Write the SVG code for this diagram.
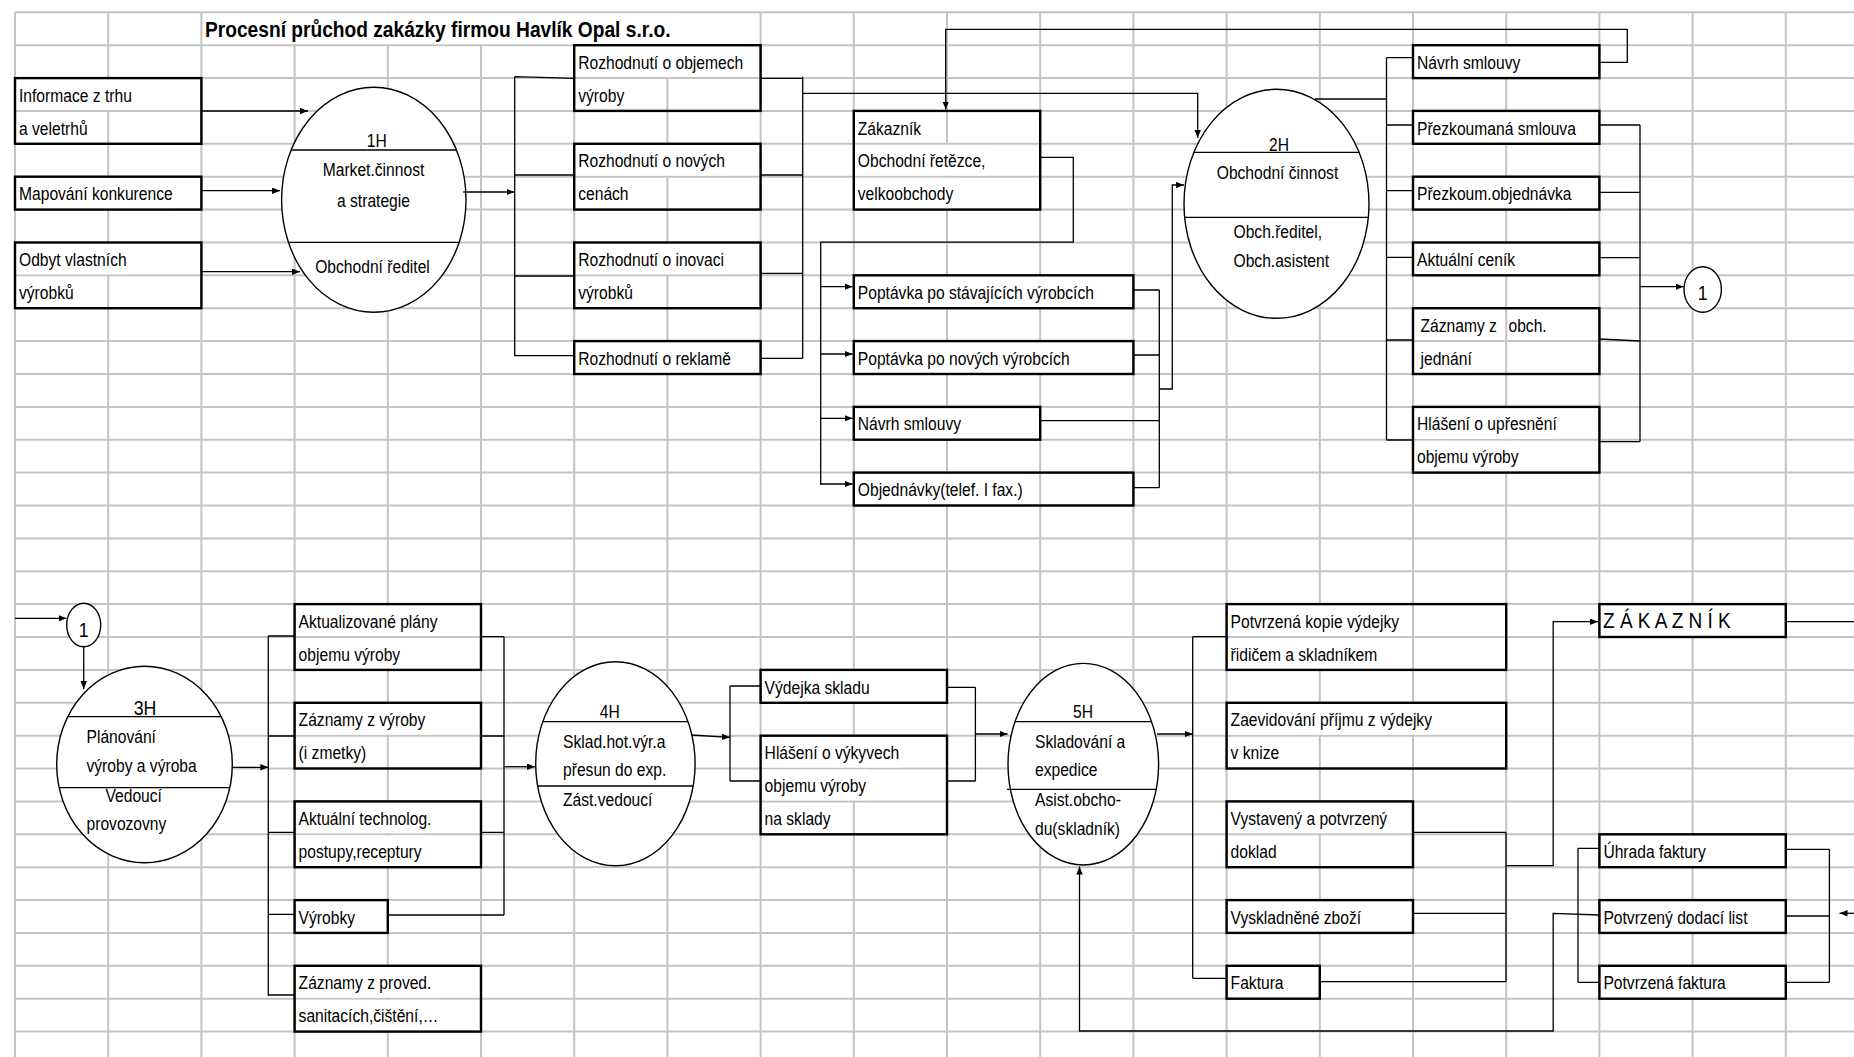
<svg xmlns="http://www.w3.org/2000/svg" width="1854" height="1057" viewBox="0 0 1854 1057">
<style>
.g{fill:none;stroke:#c4c4c4;stroke-width:2}
.m{fill:#fff}
.b{fill:none;stroke:#000;stroke-width:2.4}
.e{fill:#fff;stroke:#000;stroke-width:1.4}
.l{fill:none;stroke:#000;stroke-width:1.3}
.c{fill:none;stroke:#000;stroke-width:1.3}
.a{marker-end:url(#ah)}
text{font-family:"Liberation Sans",Arial,sans-serif;font-size:18.5px;fill:#000}
.mid{text-anchor:middle}
.big{font-size:21px}
.ttl{font-size:22.7px;font-weight:bold}
.zk{font-size:22.5px}
</style>
<defs>
<marker id="ah" markerUnits="userSpaceOnUse" markerWidth="10" markerHeight="8" refX="8" refY="3.2" orient="auto">
<path d="M0,0 L8,3.2 L0,6.4 z" fill="#000"/>
</marker>
</defs>
<rect width="1854" height="1057" fill="#fff"/>
<g id="sheet">
<path class="g" d="M15 12.3V1057M108.2 12.3V1057M201.4 12.3V1057M294.6 12.3V1057M387.8 12.3V1057M481 12.3V1057M574.2 12.3V1057M667.4 12.3V1057M760.6 12.3V1057M853.8 12.3V1057M947 12.3V1057M1040.2 12.3V1057M1133.4 12.3V1057M1226.6 12.3V1057M1319.8 12.3V1057M1413 12.3V1057M1506.2 12.3V1057M1599.4 12.3V1057M1692.6 12.3V1057M1785.8 12.3V1057"/>
<path class="g" d="M15 12.3H1854M15 45.2H1854M15 78.1H1854M15 110.9H1854M15 143.8H1854M15 176.7H1854M15 209.6H1854M15 242.5H1854M15 275.3H1854M15 308.2H1854M15 341.1H1854M15 374H1854M15 406.9H1854M15 439.7H1854M15 472.6H1854M15 505.5H1854M15 538.4H1854M15 571.3H1854M15 604.1H1854M15 637H1854M15 669.9H1854M15 702.8H1854M15 735.7H1854M15 768.5H1854M15 801.4H1854M15 834.3H1854M15 867.2H1854M15 900.1H1854M15 932.9H1854M15 965.8H1854M15 998.7H1854M15 1031.6H1854"/>
<rect class="m" x="203" y="13.4" width="472" height="30.7"/>
<rect class="m" x="17" y="79.2" width="118" height="30.7"/>
<rect class="m" x="17" y="177.8" width="157" height="30.7"/>
<rect class="m" x="17" y="243.6" width="113" height="30.7"/>
<rect class="m" x="576" y="46.3" width="166" height="30.7"/>
<rect class="m" x="576" y="144.9" width="152" height="30.7"/>
<rect class="m" x="576" y="243.6" width="150" height="30.7"/>
<rect class="m" x="576" y="342.2" width="153" height="30.7"/>
<rect class="m" x="855" y="144.9" width="133" height="30.7"/>
<rect class="m" x="855" y="177.8" width="100" height="30.7"/>
<rect class="m" x="855" y="276.4" width="242" height="30.7"/>
<rect class="m" x="855" y="342.2" width="220" height="30.7"/>
<rect class="m" x="855" y="408" width="108" height="30.7"/>
<rect class="m" x="855" y="473.7" width="172" height="30.7"/>
<rect class="m" x="1414" y="46.3" width="107" height="30.7"/>
<rect class="m" x="1414" y="112" width="160" height="30.7"/>
<rect class="m" x="1414" y="177.8" width="156" height="30.7"/>
<rect class="m" x="1414" y="243.6" width="100" height="30.7"/>
<rect class="m" x="1414" y="408" width="143" height="30.7"/>
<rect class="m" x="1414" y="440.8" width="106" height="30.7"/>
<rect class="m" x="296" y="605.2" width="144" height="30.7"/>
<rect class="m" x="296" y="638.1" width="107" height="30.7"/>
<rect class="m" x="296" y="703.9" width="136" height="30.7"/>
<rect class="m" x="296" y="802.5" width="137" height="30.7"/>
<rect class="m" x="296" y="835.4" width="133" height="30.7"/>
<rect class="m" x="296" y="966.9" width="141" height="30.7"/>
<rect class="m" x="296" y="999.8" width="144" height="30.7"/>
<rect class="m" x="762" y="671" width="110" height="30.7"/>
<rect class="m" x="762" y="736.8" width="140" height="30.7"/>
<rect class="m" x="762" y="769.6" width="106" height="30.7"/>
<rect class="m" x="1228" y="605.2" width="173" height="30.7"/>
<rect class="m" x="1228" y="638.1" width="147" height="30.7"/>
<rect class="m" x="1228" y="703.9" width="205" height="30.7"/>
<rect class="m" x="1228" y="802.5" width="170" height="30.7"/>
<rect class="m" x="1228" y="901.2" width="139" height="30.7"/>
<rect class="m" x="1601" y="605.2" width="134" height="30.7"/>
<rect class="m" x="1601" y="835.4" width="107" height="30.7"/>
<rect class="m" x="1601" y="901.2" width="150" height="30.7"/>
<rect class="m" x="1601" y="966.9" width="128" height="30.7"/>
</g>
<g id="title">
<text class="ttl" transform="matrix(.845 0 0 1 205 36.5)">Procesní průchod zakázky firmou Havlík Opal s.r.o.</text>
</g>
<g id="nodes">
<g id="n-informace"><rect class="b" x="15" y="78.1" width="186.4" height="65.7"/><text transform="matrix(.845 0 0 1 19 101.6)">Informace z trhu</text><text transform="matrix(.845 0 0 1 19 134.5)">a veletrhů</text></g>
<g id="n-mapovani"><rect class="b" x="15" y="176.7" width="186.4" height="32.9"/><text transform="matrix(.845 0 0 1 19 200.3)">Mapování konkurence</text></g>
<g id="n-odbyt"><rect class="b" x="15" y="242.5" width="186.4" height="65.7"/><text transform="matrix(.845 0 0 1 19 266)">Odbyt vlastních</text><text transform="matrix(.845 0 0 1 19 298.9)">výrobků</text></g>
<g id="n-1H"><ellipse class="e" cx="373.8" cy="199.8" rx="92.2" ry="112.5"/><path class="l" d="M291.1 150H456.5M288.4 242.3H459.2"/><text class="mid" transform="matrix(.845 0 0 1 376.7 147.3)">1H</text><text class="mid" transform="matrix(.845 0 0 1 373.5 176)">Market.činnost</text><text class="mid" transform="matrix(.845 0 0 1 373.5 207)">a strategie</text><text class="mid" transform="matrix(.845 0 0 1 372.5 273.3)">Obchodní ředitel</text></g>
<g id="n-roz1"><rect class="b" x="574.2" y="45.2" width="186.4" height="65.7"/><text transform="matrix(.845 0 0 1 578.2 68.8)">Rozhodnutí o objemech</text><text transform="matrix(.845 0 0 1 578.2 101.6)">výroby</text></g>
<g id="n-roz2"><rect class="b" x="574.2" y="143.8" width="186.4" height="65.8"/><text transform="matrix(.845 0 0 1 578.2 167.4)">Rozhodnutí o nových</text><text transform="matrix(.845 0 0 1 578.2 200.3)">cenách</text></g>
<g id="n-roz3"><rect class="b" x="574.2" y="242.5" width="186.4" height="65.7"/><text transform="matrix(.845 0 0 1 578.2 266)">Rozhodnutí o inovaci</text><text transform="matrix(.845 0 0 1 578.2 298.9)">výrobků</text></g>
<g id="n-roz4"><rect class="b" x="574.2" y="341.1" width="186.4" height="32.9"/><text transform="matrix(.845 0 0 1 578.2 364.7)">Rozhodnutí o reklamě</text></g>
<g id="n-zakaznik"><rect class="b" x="853.8" y="110.9" width="186.4" height="98.7"/><text transform="matrix(.845 0 0 1 857.8 134.5)">Zákazník</text><text transform="matrix(.845 0 0 1 857.8 167.4)">Obchodní řetězce,</text><text transform="matrix(.845 0 0 1 857.8 200.3)">velkoobchody</text></g>
<g id="n-pop1"><rect class="b" x="853.8" y="275.3" width="279.6" height="32.9"/><text transform="matrix(.845 0 0 1 857.8 298.9)">Poptávka po stávajících výrobcích</text></g>
<g id="n-pop2"><rect class="b" x="853.8" y="341.1" width="279.6" height="32.9"/><text transform="matrix(.845 0 0 1 857.8 364.7)">Poptávka po nových výrobcích</text></g>
<g id="n-navrh1"><rect class="b" x="853.8" y="406.9" width="186.4" height="32.8"/><text transform="matrix(.845 0 0 1 857.8 430.4)">Návrh smlouvy</text></g>
<g id="n-objednavky"><rect class="b" x="853.8" y="472.6" width="279.6" height="32.9"/><text transform="matrix(.845 0 0 1 857.8 496.2)">Objednávky(telef. I fax.)</text></g>
<g id="n-2H"><ellipse class="e" cx="1276.5" cy="203.8" rx="92.5" ry="114.5"/><path class="l" d="M1193.9 152.3H1359.1M1184.6 217.3H1368.4"/><text class="mid" transform="matrix(.845 0 0 1 1279 150.7)">2H</text><text class="mid" transform="matrix(.845 0 0 1 1277.5 179)">Obchodní činnost</text><text transform="matrix(.845 0 0 1 1233.5 238.3)">Obch.ředitel,</text><text transform="matrix(.845 0 0 1 1233.5 266.7)">Obch.asistent</text></g>
<g id="n-navrh2"><rect class="b" x="1413" y="45.2" width="186.4" height="32.9"/><text transform="matrix(.845 0 0 1 1417 68.8)">Návrh smlouvy</text></g>
<g id="n-prez1"><rect class="b" x="1413" y="110.9" width="186.4" height="32.9"/><text transform="matrix(.845 0 0 1 1417 134.5)">Přezkoumaná smlouva</text></g>
<g id="n-prez2"><rect class="b" x="1413" y="176.7" width="186.4" height="32.9"/><text transform="matrix(.845 0 0 1 1417 200.3)">Přezkoum.objednávka</text></g>
<g id="n-cenik"><rect class="b" x="1413" y="242.5" width="186.4" height="32.8"/><text transform="matrix(.845 0 0 1 1417 266)">Aktuální ceník</text></g>
<g id="n-zaznamy"><rect class="b" x="1413" y="308.2" width="186.4" height="65.8"/><text transform="matrix(.845 0 0 1 1420.5 331.8)">Záznamy z</text><text transform="matrix(.845 0 0 1 1508.5 331.8)">obch.</text><text transform="matrix(.845 0 0 1 1420.5 364.7)">jednání</text></g>
<g id="n-hlaseni1"><rect class="b" x="1413" y="406.9" width="186.4" height="65.7"/><text transform="matrix(.845 0 0 1 1417 430.4)">Hlášení o upřesnění</text><text transform="matrix(.845 0 0 1 1417 463.3)">objemu výroby</text></g>
<g id="n-c1a"><ellipse class="e" cx="1702.7" cy="289.5" rx="18.7" ry="22.8"/><text class="mid big" transform="matrix(.845 0 0 1 1702.7 300)">1</text></g>
<g id="n-c1b"><ellipse class="e" cx="83.7" cy="625" rx="17" ry="21.7"/><text class="mid big" transform="matrix(.845 0 0 1 83.7 636.5)">1</text></g>
<g id="n-3H"><ellipse class="e" cx="144.5" cy="764.5" rx="87.8" ry="98.2"/><path class="l" d="M67.8 716.7H221.2M59.2 787.7H229.8"/><text class="mid big" transform="matrix(.845 0 0 1 145 715)">3H</text><text transform="matrix(.845 0 0 1 86.5 743.3)">Plánování</text><text transform="matrix(.845 0 0 1 86.5 771.7)">výroby a výroba</text><text transform="matrix(.845 0 0 1 105.5 801.7)">Vedoucí</text><text transform="matrix(.845 0 0 1 86.5 830)">provozovny</text></g>
<g id="n-akt"><rect class="b" x="294.6" y="604.1" width="186.4" height="65.8"/><text transform="matrix(.845 0 0 1 298.6 627.7)">Aktualizované plány</text><text transform="matrix(.845 0 0 1 298.6 660.6)">objemu výroby</text></g>
<g id="n-zazv"><rect class="b" x="294.6" y="702.8" width="186.4" height="65.7"/><text transform="matrix(.845 0 0 1 298.6 726.4)">Záznamy z výroby</text><text transform="matrix(.845 0 0 1 298.6 759.2)">(i zmetky)</text></g>
<g id="n-tech"><rect class="b" x="294.6" y="801.4" width="186.4" height="65.8"/><text transform="matrix(.845 0 0 1 298.6 825)">Aktuální technolog.</text><text transform="matrix(.845 0 0 1 298.6 857.9)">postupy,receptury</text></g>
<g id="n-vyrobky"><rect class="b" x="294.6" y="900.1" width="93.2" height="32.8"/><text transform="matrix(.845 0 0 1 298.6 923.6)">Výrobky</text></g>
<g id="n-san"><rect class="b" x="294.6" y="965.8" width="186.4" height="65.8"/><text transform="matrix(.845 0 0 1 298.6 989.4)">Záznamy z proved.</text><text transform="matrix(.845 0 0 1 298.6 1022.3)">sanitacích,čištění,…</text></g>
<g id="n-4H"><ellipse class="e" cx="615.4" cy="763.7" rx="79.7" ry="102"/><path class="l" d="M542.8 721.7H688M537.6 786H693.2"/><text class="mid" transform="matrix(.845 0 0 1 609.8 717.7)">4H</text><text transform="matrix(.845 0 0 1 563 747.7)">Sklad.hot.výr.a</text><text transform="matrix(.845 0 0 1 563 776)">přesun do exp.</text><text transform="matrix(.845 0 0 1 563 806)">Zást.vedoucí</text></g>
<g id="n-vydejka"><rect class="b" x="760.6" y="669.9" width="186.4" height="32.9"/><text transform="matrix(.845 0 0 1 764.6 693.5)">Výdejka skladu</text></g>
<g id="n-hlaseni2"><rect class="b" x="760.6" y="735.7" width="186.4" height="98.6"/><text transform="matrix(.845 0 0 1 764.6 759.2)">Hlášení o výkyvech</text><text transform="matrix(.845 0 0 1 764.6 792.1)">objemu výroby</text><text transform="matrix(.845 0 0 1 764.6 825)">na sklady</text></g>
<g id="n-5H"><ellipse class="e" cx="1083.3" cy="764.2" rx="75.3" ry="100.8"/><path class="l" d="M1015 721.7H1151.6M1007 789.3H1157"/><text class="mid" transform="matrix(.845 0 0 1 1083 717.7)">5H</text><text transform="matrix(.845 0 0 1 1035 747.7)">Skladování a</text><text transform="matrix(.845 0 0 1 1035 776)">expedice</text><text transform="matrix(.845 0 0 1 1035 806)">Asist.obcho-</text><text transform="matrix(.845 0 0 1 1035 835)">du(skladník)</text></g>
<g id="n-kopie"><rect class="b" x="1226.6" y="604.1" width="279.6" height="65.8"/><text transform="matrix(.845 0 0 1 1230.6 627.7)">Potvrzená kopie výdejky</text><text transform="matrix(.845 0 0 1 1230.6 660.6)">řidičem a skladníkem</text></g>
<g id="n-zaevid"><rect class="b" x="1226.6" y="702.8" width="279.6" height="65.7"/><text transform="matrix(.845 0 0 1 1230.6 726.4)">Zaevidování příjmu z výdejky</text><text transform="matrix(.845 0 0 1 1230.6 759.2)">v knize</text></g>
<g id="n-doklad"><rect class="b" x="1226.6" y="801.4" width="186.4" height="65.8"/><text transform="matrix(.845 0 0 1 1230.6 825)">Vystavený a potvrzený</text><text transform="matrix(.845 0 0 1 1230.6 857.9)">doklad</text></g>
<g id="n-zbozi"><rect class="b" x="1226.6" y="900.1" width="186.4" height="32.8"/><text transform="matrix(.845 0 0 1 1230.6 923.6)">Vyskladněné zboží</text></g>
<g id="n-faktura"><rect class="b" x="1226.6" y="965.8" width="93.2" height="32.9"/><text transform="matrix(.845 0 0 1 1230.6 989.4)">Faktura</text></g>
<g id="n-ZAKAZNIK"><rect class="b" x="1599.4" y="604.1" width="186.4" height="32.9"/><text class="zk" transform="matrix(.845 0 0 1 1603 627.7)">Z Á K A Z N Í K</text></g>
<g id="n-uhrada"><rect class="b" x="1599.4" y="834.3" width="186.4" height="32.9"/><text transform="matrix(.845 0 0 1 1603.4 857.9)">Úhrada faktury</text></g>
<g id="n-dodaci"><rect class="b" x="1599.4" y="900.1" width="186.4" height="32.8"/><text transform="matrix(.845 0 0 1 1603.4 923.6)">Potvrzený dodací list</text></g>
<g id="n-pfaktura"><rect class="b" x="1599.4" y="965.8" width="186.4" height="32.9"/><text transform="matrix(.845 0 0 1 1603.4 989.4)">Potvrzená faktura</text></g>
</g>
<g id="connectors">
<path class="c a" d="M202 111H308"/>
<path class="c a" d="M202 190.7H280"/>
<path class="c a" d="M202 271.7H300"/>
<path class="c a" d="M463.3 192H514.5"/>
<path class="c" d="M514.7 76.7V356M514.7 76.7L574.2 78.3M514.7 175H574.2M514.7 276H574.2M514.7 355.7H574.2"/>
<path class="c" d="M760.6 78.3H802.7M802.7 76.7V358.3M760.6 175H802.7M760.6 273.3H802.7M760.6 358.3H802.7"/>
<path class="c a" d="M802.7 93.3H1197.7V138"/>
<path class="c a" d="M1599.4 62.3H1627.3V29.3H945.7V109.5"/>
<path class="c" d="M1040.2 157.3H1073.3V242.2H820.7V485"/>
<path class="c a" d="M820.7 286.7H852.5"/>
<path class="c a" d="M820.7 354H852.5"/>
<path class="c a" d="M820.7 418.3H852.5"/>
<path class="c a" d="M820.7 484H852.5"/>
<path class="c" d="M1133.4 290H1159.3M1133.4 355H1159.3M1040.2 420.7H1159.3M1133.4 487.7H1159.3M1159.3 290V487.7"/>
<path class="c a" d="M1159.3 389H1172.3V185H1184"/>
<path class="c" d="M1315 99H1386.5M1386.5 57.7V440M1386.5 57.7H1413M1386.5 125H1413M1386.5 190.7H1413M1386.5 257.3H1413M1386.5 340H1413M1386.5 440H1413"/>
<path class="c" d="M1599.4 125H1640M1599.4 192.3H1640M1599.4 257.7H1640M1599.4 339L1640 341M1599.4 441.7H1640M1640 125V441.7"/>
<path class="c a" d="M1640 286.7H1683.5"/>
<path class="c a" d="M15 618.3H66.5"/>
<path class="c a" d="M83.7 646.7V689"/>
<path class="c a" d="M232.3 767.3H268.3"/>
<path class="c" d="M268.3 636V996M268.3 636H294.6M268.3 736H294.6M268.3 832.3H294.6M268.3 914.3H294.6M268.3 995H294.6"/>
<path class="c" d="M481 636.7H504M481 736H504M481 832.3H504M387.8 915H504M504 636.7V915"/>
<path class="c a" d="M504 766.7H535"/>
<path class="c a" d="M691 735L730 737.3"/>
<path class="c" d="M730 686V781M730 686H760.6M730 781H760.6"/>
<path class="c" d="M947 687.3H975.4M947 781H975.4M975.4 687.3V781"/>
<path class="c a" d="M975.4 734H1007.5"/>
<path class="c a" d="M1157 734H1192.7"/>
<path class="c" d="M1192.7 636.7V978.3M1192.7 636.7H1226.6M1192.7 978.3H1226.6"/>
<path class="c" d="M1413 832.3H1506M1413 913.3H1506M1319.8 981.7H1506M1506 832.3V981.7"/>
<path class="c a" d="M1506 865.7H1553.2V621.7H1598"/>
<path class="c" d="M1785.8 621.7H1854"/>
<path class="c a" d="M1854 913.3H1839.5"/>
<path class="c" d="M1785.8 849.3H1829.4M1785.8 916H1829.4M1785.8 982.3H1829.4M1829.4 849.3V982.3"/>
<path class="c" d="M1578 848.3V982.3M1578 848.3H1599.4M1578 982.3H1599.4"/>
<path class="c a" d="M1599.4 915L1553.2 913.3V1031H1079.5V866.5"/>
</g>
</svg>
